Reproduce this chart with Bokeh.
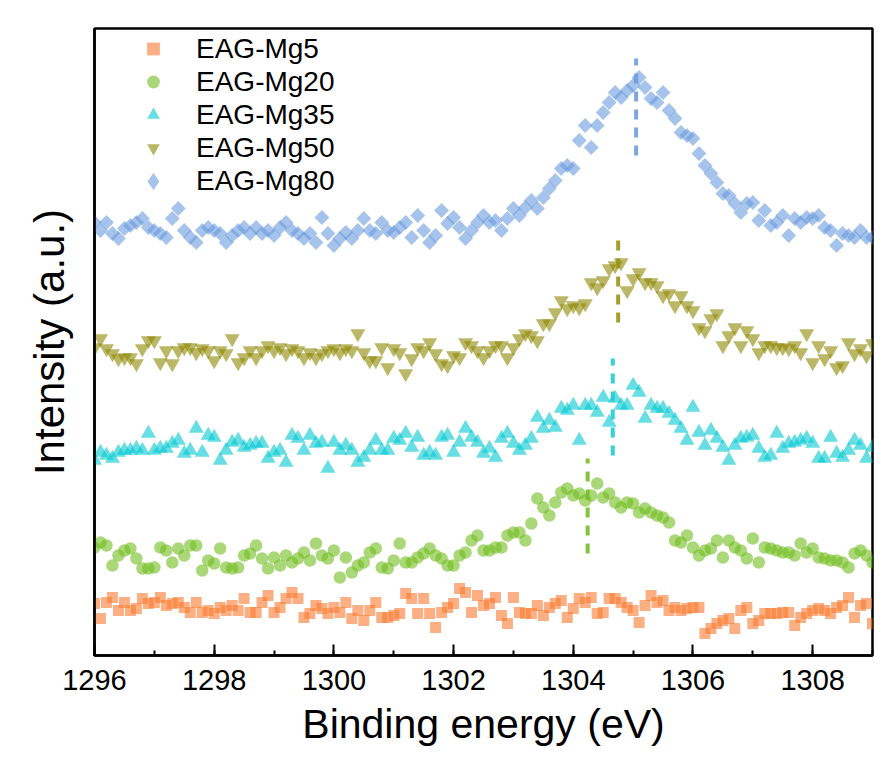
import numpy as np
from bokeh.plotting import figure
from bokeh.models import (ColumnDataSource, Legend, LegendItem, SingleIntervalTicker,
                          FixedTicker, Range1d)
from bokeh.embed import file_html
from bokeh.resources import INLINE

# Binding energy grid (eV)
energy = np.round(np.arange(1296.0, 1309.05, 0.1), 1)

# Stacked (offset) intensities, arbitrary units
mg5 = [52, 37, 53, 58, 45, 53, 45, 47, 57, 52, 53, 58, 50, 52, 53, 48, 43, 53, 43, 45,
       42, 48, 45, 50, 45, 57, 43, 43, 53, 60, 43, 48, 57, 63, 57, 38, 42, 50, 47, 42,
       48, 43, 53, 37, 45, 35, 45, 53, 38, 38, 40, 42, 62, 57, 42, 57, 42, 28, 43, 48,
       52, 67, 63, 43, 60, 50,
       52, 58, 40, 32, 58, 43, 42, 42, 50, 40, 48, 52, 55, 38, 47, 57, 53, 58, 42, 43,
       57, 57, 53, 48, 45, 33, 50, 60, 53, 55, 45, 48, 45, 47, 48, 48, 22, 27, 32, 35,
       37, 27, 45, 48, 32, 35, 42, 42, 42, 43, 43, 30, 38, 42, 45, 47, 45, 42, 48, 50,
       58, 38, 50, 52, 32]

mg20 = [108, 113, 110, 90, 100, 105, 107, 97, 87, 87, 88, 108, 105, 93, 107, 100, 110, 110, 85, 95,
        92, 107, 88, 87, 88, 100, 102, 110, 97, 87, 98, 90, 100, 93, 97, 103, 95, 112, 100, 97,
        105, 78, 98, 83, 90, 93, 103, 107, 88, 87, 95, 112, 93, 93, 98, 102, 107, 100, 97, 90,
        90, 100, 103, 115, 120, 105,
        105, 108, 108, 120, 123, 123, 115, 132, 157, 148, 140, 153, 163, 167, 160, 162, 155, 160, 172, 158,
        162, 153, 148, 153, 152, 143, 147, 143, 140, 138, 133, 115, 113, 120, 108, 100, 105, 107, 115, 98,
        115, 108, 105, 97, 117, 93, 108, 107, 105, 103, 103, 100, 112, 103, 107, 98, 97, 95, 95, 93,
        88, 102, 105, 100, 93]

mg35 = [195, 203, 200, 197, 203, 205, 205, 207, 205, 222, 205, 207, 207, 212, 215, 202, 205, 227, 203, 220,
        218, 195, 205, 213, 215, 208, 210, 212, 212, 197, 203, 205, 193, 220, 217, 205, 220, 212, 213, 187,
        213, 205, 210, 205, 193, 198, 205, 215, 205, 205, 217, 215, 222, 208, 218, 200, 203, 200, 218, 220,
        203, 213, 227, 218, 213, 202,
        207, 198, 217, 222, 212, 205, 210, 217, 238, 227, 235, 228, 247, 245, 250, 215, 250, 250, 243, 258,
        233, 257, 250, 250, 270, 263, 237, 250, 247, 247, 242, 235, 227, 215, 248, 223, 210, 225, 217, 208,
        195, 210, 217, 218, 220, 207, 198, 200, 222, 207, 212, 213, 215, 217, 212, 197, 197, 218, 202, 198,
        205, 215, 210, 197, 208]

mg50 = [308, 317, 307, 302, 297, 298, 298, 292, 307, 315, 315, 293, 305, 292, 305, 308, 308, 303, 307, 305,
        295, 305, 302, 317, 293, 298, 305, 298, 305, 310, 305, 308, 302, 307, 305, 298, 303, 298, 302, 305,
        307, 303, 307, 305, 322, 303, 295, 295, 308, 288, 307, 303, 282, 297, 308, 305, 313, 302, 292, 290,
        300, 298, 313, 310, 305, 298,
        305, 310, 310, 298, 308, 317, 322, 320, 315, 332, 332, 343, 355, 347, 350, 348, 352, 373, 368, 375,
        387, 390, 393, 365, 377, 383, 373, 373, 370, 360, 362, 350, 360, 350, 345, 328, 325, 337, 342, 310,
        320, 328, 310, 325, 317, 303, 310, 310, 308, 308, 307, 310, 303, 322, 293, 310, 297, 305, 288, 290,
        313, 302, 307, 300, 312]

mg80 = [433, 425, 433, 422, 417, 427, 430, 433, 437, 428, 425, 422, 418, 437, 447, 425, 418, 413, 425, 428,
        425, 422, 413, 420, 425, 428, 422, 428, 422, 425, 420, 428, 433, 425, 422, 417, 422, 413, 438, 422,
        410, 417, 423, 417, 425, 437, 425, 422, 433, 425, 423, 428, 433, 418, 440, 425, 413, 420, 445, 432,
        438, 428, 417, 425, 433, 440,
        433, 435, 425, 437, 447, 440, 448, 455, 447, 458, 467, 475, 487, 490, 487, 515, 530, 508, 530, 543,
        553, 563, 558, 565, 570, 578, 568, 557, 553, 563, 545, 537, 523, 520, 517, 502, 490, 482, 473, 462,
        460, 452, 443, 452, 453, 435, 445, 430, 433, 440, 420, 437, 433, 438, 437, 440, 428, 425, 410, 422,
        420, 418, 425, 418, 418]

series_names = ["EAG-Mg5", "EAG-Mg20", "EAG-Mg35", "EAG-Mg50", "EAG-Mg80"]
series_values = [mg5, mg20, mg35, mg50, mg80]
series_colors = ["#FA7A2F", "#71BC1E", "#00C8D0", "#8C8700", "#6A9BDE"]
series_markers = ["square", "circle", "triangle", "inverted_triangle", "square"]
legend_markers = ["square", "circle", "triangle", "inverted_triangle", "diamond"]
series_sizes = [11, 12.5, 15, 15, 10.5]
series_angles = [0.0, 0.0, 0.0, 0.0, np.pi / 4]

# Peak-position markers (dashed vertical lines)
peak_energy = [1304.24, 1304.66, 1304.75, 1305.05]
peak_top = [197, 297, 422, 597]
peak_bottom = [102, 200, 333, 500]
peak_colors = ["#78BE2A", "#20CCD4", "#9A9418", "#6E9FDC"]

x_ticks_major = 2

p = figure(width=886, height=776, output_backend="svg", toolbar_location=None,
           x_range=Range1d(1296, 1309), y_range=Range1d(0, 627),
           min_border_left=94, min_border_right=14, min_border_top=28, min_border_bottom=121)
p.background_fill_color = "white"
p.border_fill_color = "white"
p.xgrid.visible = False
p.ygrid.visible = False
p.outline_line_color = "black"
p.outline_line_width = 2.5
p.outline_line_alpha = 1

font = "Liberation Sans"
p.xaxis.ticker = SingleIntervalTicker(interval=x_ticks_major, num_minor_ticks=2)
p.xaxis.axis_label = "Binding energy (eV)"
p.xaxis.axis_label_text_font = font
p.xaxis.axis_label_text_font_style = "normal"
p.xaxis.axis_label_text_font_size = "41px"
p.xaxis.axis_label_text_color = "black"
p.xaxis.axis_label_standoff = 8
p.xaxis.major_label_text_font = font
p.xaxis.major_label_text_font_size = "29px"
p.xaxis.major_label_text_color = "black"
p.xaxis.major_label_standoff = 14
p.xaxis.major_tick_in = 11
p.xaxis.major_tick_out = 0
p.xaxis.minor_tick_in = 5
p.xaxis.minor_tick_out = 0
p.xaxis.axis_line_width = 2.5
p.xaxis.axis_line_color = "black"
p.xaxis.major_tick_line_width = 2
p.xaxis.minor_tick_line_width = 2
p.xaxis.major_tick_line_color = "black"
p.xaxis.minor_tick_line_color = "black"

p.yaxis.ticker = FixedTicker(ticks=[])
p.yaxis.axis_label = "Intensity (a.u.)"
p.yaxis.axis_label_text_font = font
p.yaxis.axis_label_text_font_style = "normal"
p.yaxis.axis_label_text_font_size = "42px"
p.yaxis.axis_label_text_color = "black"
p.yaxis.axis_label_standoff = 22
p.yaxis.axis_line_width = 2.5
p.yaxis.axis_line_color = "black"
p.yaxis.major_tick_line_color = None
p.yaxis.minor_tick_line_color = None

items_main = []
items_extra = []
for name, vals, col, mk, lmk, sz, ang in zip(series_names, series_values, series_colors,
                                              series_markers, legend_markers, series_sizes,
                                              series_angles):
    src = ColumnDataSource(dict(x=energy, y=vals))
    r = p.scatter("x", "y", source=src, marker=mk, size=sz, angle=ang,
                  fill_color=col, fill_alpha=0.6, line_color=None)
    if lmk != mk:
        # legend-only swatch (no data points) with the diamond shape
        r = p.scatter(x=[np.nan], y=[np.nan], marker=lmk, size=sz,
                      fill_color=col, fill_alpha=0.6, line_color=None)
        items_extra.append(LegendItem(label=name, renderers=[r]))
    else:
        items_main.append(LegendItem(label=name, renderers=[r]))

seg = ColumnDataSource(dict(x=peak_energy, y0=peak_bottom, y1=peak_top, c=peak_colors))
p.segment(x0="x", y0="y0", x1="x", y1="y1", source=seg, line_color="c",
          line_width=4, line_dash="10 8", line_alpha=0.9)


def style_legend(lg, gw, standoff):
    lg.border_line_color = None
    lg.background_fill_alpha = 0
    lg.padding = 0
    lg.margin = 0
    lg.spacing = 0
    lg.glyph_width = gw
    lg.glyph_height = 33 if gw < 40 else gw
    lg.label_height = 33
    lg.label_standoff = standoff
    lg.label_text_font = font
    lg.label_text_font_size = "28px"
    lg.label_text_color = "black"


legend = Legend(items=items_main, location=(43, 491))
style_legend(legend, 32, 27)
p.add_layout(legend)

legend2 = Legend(items=items_extra, location=(37, 452))
style_legend(legend2, 44, 21)
p.add_layout(legend2)

open("out.html", "w").write(file_html(p, INLINE))
